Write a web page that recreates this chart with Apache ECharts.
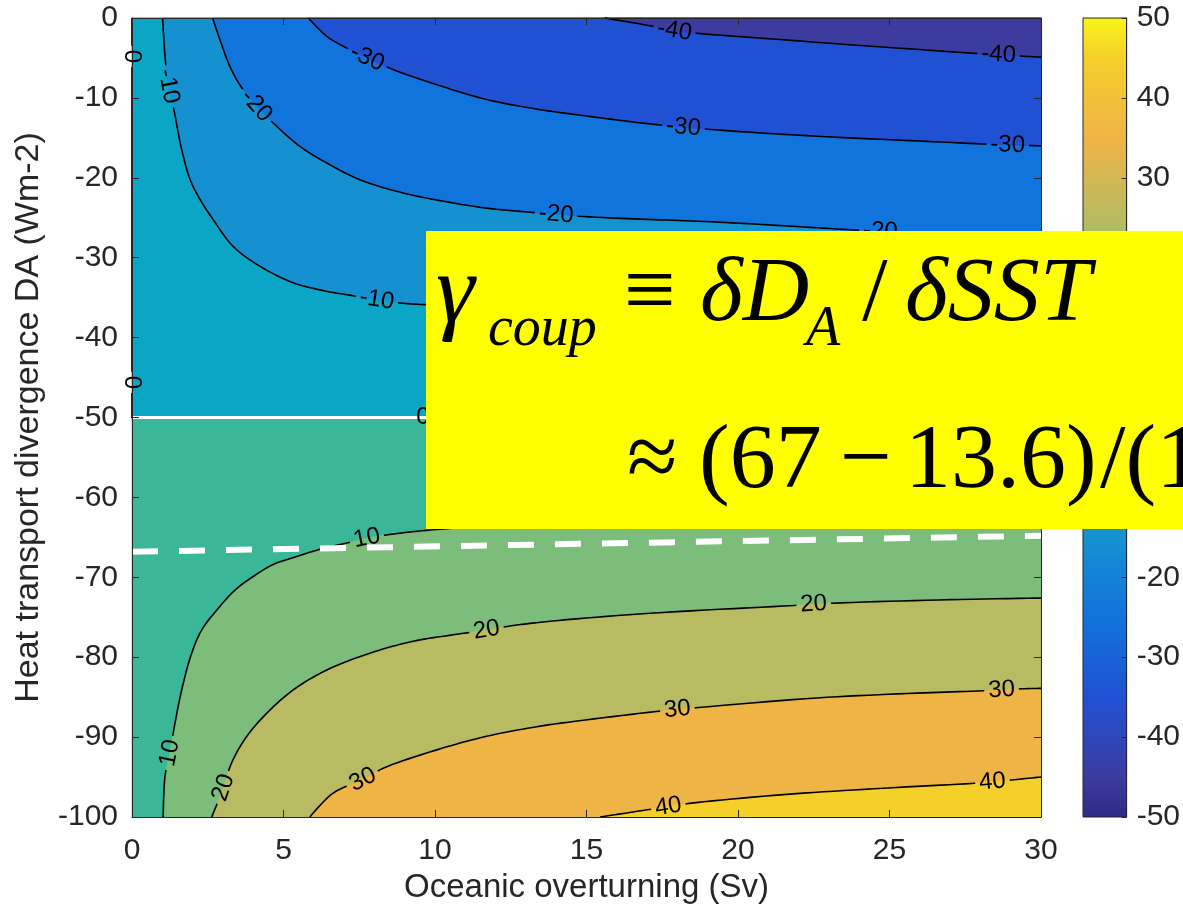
<!DOCTYPE html>
<html>
<head>
<meta charset="utf-8">
<script src="https://cdn.jsdelivr.net/npm/echarts@6/dist/echarts.min.js"></script>
<style>
html, body { margin: 0; padding: 0; background: #ffffff; }
#chart { width: 1183px; height: 912px; }
</style>
</head>
<body>
<div id="chart"></div>
<script>
// ---- axis ranges -------------------------------------------------------
const xRange = [0, 30];        // oceanic overturning (Sv)
const yRange = [-100, 0];      // heat transport divergence DA (Wm-2)
const colorRange = [-50, 50];  // colour scale
const xTickStep = 5;
const yTickStep = 10;
const colorTickStep = 10;

// ---- contour lines, points as [overturning, DA] --------------------------
const contourM40 = [[15.6,0],[17.0,-0.9],[17.9,-1.6],[18.75,-1.95],[21.4,-2.7],[23.7,-3.35],[26.0,-3.95],[27.7,-4.4],[28.6,-4.6],[29.5,-4.8],[30,-4.9]];
const contourM30 = [[5.82,0],[6.43,-2.3],[7.0,-3.6],[7.75,-5.0],[8.63,-6.47],[10.06,-8.35],[11.7,-10.2],[13.36,-11.4],[14.46,-12.0],[17.2,-13.3],[19.1,-13.95],[22.6,-14.8],[26.0,-15.4],[28.0,-15.75],[29.0,-15.9],[30,-16.0]];
const contourM20 = [[2.66,0],[2.9,-2.7],[3.23,-6.06],[3.6,-8.6],[4.12,-11.06],[4.78,-13.57],[5.54,-16.07],[6.43,-18.15],[7.52,-20.24],[8.95,-21.9],[10.6,-23.15],[11.7,-23.8],[13.1,-24.3],[14.9,-24.85],[17.0,-25.2],[19.1,-25.5],[21.5,-26.0],[23.7,-26.5],[26.5,-27.0],[30,-27.5]];
const contourM10 = [[1.01,0],[1.09,-4.84],[1.2,-8.5],[1.36,-11.06],[1.64,-16.48],[1.92,-20.24],[2.25,-22.74],[2.68,-25.24],[3.34,-28.59],[4.23,-31.09],[5.32,-33.13],[6.44,-34.22],[7.09,-34.63],[8.08,-35.26],[8.85,-35.67],[9.74,-35.9],[12.5,-36.5],[15,-36.9],[20,-37.6],[25,-38.2],[30,-38.6]];
const contour0 = [[0,0],[0,-50],[30,-50]];
const contour10 = [[1.03,-100],[1.09,-94.9],[1.25,-92.0],[1.36,-89.5],[1.64,-84.1],[1.97,-79.5],[2.3,-76.6],[2.8,-74.1],[3.4,-71.6],[4.0,-69.9],[4.66,-68.4],[5.44,-67.4],[6.2,-66.5],[7.09,-65.7],[7.75,-65.1],[8.4,-64.7],[9.5,-64.2],[12,-63.5],[15,-63.0],[20,-62.4],[25,-62.0],[30,-61.7]];
const contour20 = [[2.63,-100],[3.01,-96.4],[3.29,-93.2],[3.79,-89.9],[4.45,-87.0],[5.32,-84.1],[6.43,-81.6],[7.85,-79.5],[9.28,-78.0],[10.6,-77.2],[11.7,-76.6],[12.47,-76.1],[13.8,-75.5],[17.1,-74.5],[21.5,-73.6],[23.1,-73.25],[27.0,-72.8],[30,-72.6]];
const contour30 = [[5.87,-100],[6.64,-97.0],[7.63,-95.3],[8.29,-93.9],[10.06,-91.6],[11.7,-89.9],[13.36,-88.7],[14.46,-88.1],[17.3,-86.8],[18.7,-86.3],[22.6,-85.1],[25.9,-84.5],[28.1,-84.2],[29.4,-83.95],[30,-83.9]];
const contour40 = [[15.45,-100],[17.0,-99.1],[17.7,-98.7],[18.4,-98.3],[21.5,-97.2],[24.8,-96.4],[27.7,-95.8],[28.4,-95.6],[29.2,-95.3],[30,-95.0]];

// ---- where each contour carries its inline value label -------------------
const labelsM40 = [[17.9,-1.7],[28.6,-4.6]];
const labelsM30 = [[7.75,-5.1],[18.2,-13.7],[28.9,-15.9]];
const labelsM20 = [[4.1,-11.0],[14.0,-24.6],[24.7,-26.7]];
const labelsM10 = [[1.15,-8.6],[8.08,-35.3]];
const labels0 = [[0,-4.8],[0,-45.6],[9.6,-50]];
const labels10 = [[1.25,-92.0],[7.75,-65.1]];
const labels20 = [[3.0,-96.3],[11.7,-76.6],[22.5,-73.4]];
const labels30 = [[7.6,-95.2],[18.0,-86.5],[28.7,-84.1]];
const labels40 = [[17.7,-98.7],[28.4,-95.6]];

// ---- white reference lines ---------------------------------------------
const refSolid = [[0,-50],[30,-50]];
const refDashed = [[0,-66.8],[30,-64.8]];

// ---- colours -------------------------------------------------------------
const FONT_SANS = "'Liberation Sans', Arial, Helvetica, sans-serif";
const FONT_SERIF = "'Liberation Serif', 'Times New Roman', serif";
const TEXT_COLOR = '#262626';

// fill colour of each 10-unit band, keyed by the band's middle value
const bandColors = {
  '-45': '#3c3ba0', '-35': '#2151d3', '-25': '#1173dc', '-15': '#1591d0', '-5': '#0ba6c6',
  '5': '#3ab798', '15': '#7dbd7c', '25': '#b8bb61', '35': '#efb446', '45': '#f5d02b'
};
// continuous colour bar stops [value, colour]
const colorbarStops = [
  [-50, '#2d2b85'], [-45, '#3c3ba0'], [-35, '#2151d3'], [-25, '#1173dc'], [-15, '#1591d0'],
  [-5, '#0ba6c6'], [5, '#3ab798'], [15, '#7dbd7c'], [25, '#b8bb61'], [35, '#efb446'],
  [45, '#f5d02b'], [50, '#f8f619']
];

// ---- contour table built from the arrays above ---------------------------
const contours = [
  { level: -40, pts: contourM40, labels: labelsM40 },
  { level: -30, pts: contourM30, labels: labelsM30 },
  { level: -20, pts: contourM20, labels: labelsM20 },
  { level: -10, pts: contourM10, labels: labelsM10 },
  { level: 0,   pts: contour0,   labels: labels0, straight: true },
  { level: 10,  pts: contour10,  labels: labels10 },
  { level: 20,  pts: contour20,  labels: labels20 },
  { level: 30,  pts: contour30,  labels: labels30 },
  { level: 40,  pts: contour40,  labels: labels40 }
];

// filled regions, painted in order (each nested inside the previous one);
// a region is a contour path closed through one plot corner
const topRight = [xRange[1], yRange[1]];
const bottomRight = [xRange[1], yRange[0]];
const plotRect = [[xRange[0], yRange[1]], [xRange[1], yRange[1]], [xRange[1], yRange[0]], [xRange[0], yRange[0]]];
const fills = [
  { band: 5,   rect: plotRect },
  { band: -5,  path: contour0,   corner: topRight, straight: true },
  { band: -15, path: contourM10, corner: topRight },
  { band: -25, path: contourM20, corner: topRight },
  { band: -35, path: contourM30, corner: topRight },
  { band: -45, path: contourM40, corner: topRight },
  { band: 15,  path: contour10,  corner: bottomRight },
  { band: 25,  path: contour20,  corner: bottomRight },
  { band: 35,  path: contour30,  corner: bottomRight },
  { band: 45,  path: contour40,  corner: bottomRight }
];

// ---- geometry helpers (pixel space) --------------------------------------
const LABEL_FONT_SIZE = 24;
const measureCtx = document.createElement('canvas').getContext('2d');
function textWidth(text, size) {
  measureCtx.font = size + 'px ' + FONT_SANS;
  return measureCtx.measureText(text).width;
}
// centripetal Catmull-Rom curve through the projected contour points
function smoothCurve(px, steps) {
  if (px.length < 3) return px.slice();
  const out = [px[0]];
  const n = px.length;
  for (let i = 0; i < n - 1; i++) {
    const p0 = px[Math.max(i - 1, 0)], p1 = px[i], p2 = px[i + 1], p3 = px[Math.min(i + 2, n - 1)];
    const d = (a, b) => Math.pow(Math.max(Math.hypot(b[0] - a[0], b[1] - a[1]), 1e-6), 0.5);
    const t0 = 0, t1 = t0 + d(p0, p1), t2 = t1 + d(p1, p2), t3 = t2 + d(p2, p3);
    for (let k = 1; k <= steps; k++) {
      const t = t1 + (t2 - t1) * k / steps;
      const lerp = (a, b, ta, tb) => {
        if (tb - ta < 1e-9) return a;
        return [a[0] * (tb - t) / (tb - ta) + b[0] * (t - ta) / (tb - ta),
                a[1] * (tb - t) / (tb - ta) + b[1] * (t - ta) / (tb - ta)];
      };
      const A1 = lerp(p0, p1, t0, t1), A2 = lerp(p1, p2, t1, t2), A3 = lerp(p2, p3, t2, t3);
      const B1 = lerp(A1, A2, t0, t2), B2 = lerp(A2, A3, t1, t3);
      out.push(lerp(B1, B2, t1, t2));
    }
  }
  return out;
}
function contourPixels(pts, straight, api) {
  const px = pts.map(p => api.coord(p));
  return straight ? px : smoothCurve(px, 10);
}
function cumulative(px) {
  const cum = [0];
  for (let i = 1; i < px.length; i++) {
    cum.push(cum[i - 1] + Math.hypot(px[i][0] - px[i - 1][0], px[i][1] - px[i - 1][1]));
  }
  return cum;
}
function pointAt(px, cum, s) {
  for (let i = 0; i < px.length - 1; i++) {
    if (s <= cum[i + 1] || i === px.length - 2) {
      const seg = cum[i + 1] - cum[i];
      const t = seg > 0 ? Math.max(0, Math.min(1, (s - cum[i]) / seg)) : 0;
      return [px[i][0] + t * (px[i + 1][0] - px[i][0]), px[i][1] + t * (px[i + 1][1] - px[i][1])];
    }
  }
  return px[px.length - 1];
}
function subPath(px, cum, s0, s1) {
  const out = [pointAt(px, cum, s0)];
  for (let i = 0; i < px.length; i++) {
    if (cum[i] > s0 && cum[i] < s1) out.push(px[i]);
  }
  out.push(pointAt(px, cum, s1));
  return out;
}
// label placement: projected point, arc position, rotation and gap extent
function labelLayout(c, api) {
  const px = contourPixels(c.pts, c.straight, api);
  const cum = cumulative(px);
  const text = String(c.level);
  const w = textWidth(text, LABEL_FONT_SIZE);
  const placed = c.labels.map(a => {
    const q = api.coord(a);
    let best = null;
    for (let i = 0; i < px.length - 1; i++) {
      const ax = px[i][0], ay = px[i][1];
      const dx = px[i + 1][0] - ax, dy = px[i + 1][1] - ay;
      const L2 = dx * dx + dy * dy;
      let t = L2 > 0 ? ((q[0] - ax) * dx + (q[1] - ay) * dy) / L2 : 0;
      t = Math.max(0, Math.min(1, t));
      const cx = ax + t * dx, cy = ay + t * dy;
      const dd = Math.hypot(q[0] - cx, q[1] - cy);
      if (!best || dd < best.d) best = { d: dd, x: cx, y: cy, s: cum[i] + t * Math.sqrt(L2) };
    }
    // direction of the curve across the label's width
    const a0 = pointAt(px, cum, Math.max(0, best.s - w / 2));
    const a1 = pointAt(px, cum, Math.min(cum[cum.length - 1], best.s + w / 2));
    let dx = a1[0] - a0[0], dy = a1[1] - a0[1];
    if (dx < 0 || (Math.abs(dx) < 1e-6 && dy < 0)) { dx = -dx; dy = -dy; }
    return { x: best.x, y: best.y, s: best.s, rotation: -Math.atan2(dy, dx), text, w };
  });
  return { px, cum, placed };
}

// ---- chart -------------------------------------------------------------
const chart = echarts.init(document.getElementById('chart'), null, { renderer: 'canvas' });

const axisLineStyle = { color: TEXT_COLOR, width: 1 };

// text piece of the equation box
function eqText(x, y, text, font) {
  return {
    type: 'text', x: x, y: y, z: 101,
    style: { text: text, font: font, fill: '#000000', align: 'left', verticalAlign: 'middle' }
  };
}
const MAIN = '92px ' + FONT_SERIF;
const MAIN_IT = 'italic 92px ' + FONT_SERIF;
const SUB_IT = 'italic 56px ' + FONT_SERIF;

const option = {
  animation: false,
  backgroundColor: '#ffffff',
  grid: [
    { left: 132, top: 18, width: 909, height: 799 },
    { left: 1083, top: 18, width: 46, height: 799 }
  ],
  xAxis: [
    {
      gridIndex: 0, type: 'value', min: xRange[0], max: xRange[1], interval: xTickStep,
      position: 'bottom', z: 10,
      name: 'Oceanic overturning (Sv)', nameLocation: 'middle', nameGap: 54,
      nameTextStyle: { fontSize: 33, color: TEXT_COLOR, fontFamily: FONT_SANS },
      axisLine: { show: true, onZero: false, lineStyle: axisLineStyle },
      axisTick: { show: true, inside: true, length: 7, lineStyle: axisLineStyle },
      axisLabel: { fontSize: 30, color: TEXT_COLOR, fontFamily: FONT_SANS, margin: 19, showMinLabel: true, showMaxLabel: true },
      splitLine: { show: false }
    },
    {
      gridIndex: 0, type: 'value', min: xRange[0], max: xRange[1], interval: xTickStep,
      position: 'top', z: 10,
      axisLine: { show: true, onZero: false, lineStyle: axisLineStyle },
      axisTick: { show: true, inside: true, length: 7, lineStyle: axisLineStyle },
      axisLabel: { show: false }, splitLine: { show: false }
    },
    { gridIndex: 1, type: 'value', min: 0, max: 1, show: false }
  ],
  yAxis: [
    {
      gridIndex: 0, type: 'value', min: yRange[0], max: yRange[1], interval: yTickStep,
      position: 'left', z: 10,
      name: 'Heat transport divergence DA (Wm-2)', nameLocation: 'middle', nameGap: 86, nameRotate: 90,
      nameTextStyle: { fontSize: 34, color: TEXT_COLOR, fontFamily: FONT_SANS },
      axisLine: { show: true, onZero: false, lineStyle: axisLineStyle },
      axisTick: { show: true, inside: true, length: 7, lineStyle: axisLineStyle },
      axisLabel: { fontSize: 30, color: TEXT_COLOR, fontFamily: FONT_SANS, margin: 14, showMinLabel: true, showMaxLabel: true },
      splitLine: { show: false }
    },
    {
      gridIndex: 0, type: 'value', min: yRange[0], max: yRange[1], interval: yTickStep,
      position: 'right', z: 10,
      axisLine: { show: true, onZero: false, lineStyle: axisLineStyle },
      axisTick: { show: true, inside: true, length: 7, lineStyle: axisLineStyle },
      axisLabel: { show: false }, splitLine: { show: false }
    },
    {
      gridIndex: 1, type: 'value', min: colorRange[0], max: colorRange[1], interval: colorTickStep,
      position: 'right', z: 10,
      axisLine: { show: true, onZero: false, lineStyle: axisLineStyle },
      axisTick: { show: true, inside: true, length: 5, lineStyle: axisLineStyle },
      axisLabel: { fontSize: 30, color: TEXT_COLOR, fontFamily: FONT_SANS, margin: 10, showMinLabel: true, showMaxLabel: true },
      splitLine: { show: false }
    }
  ],
  series: [
    // filled contour bands
    {
      type: 'custom', name: 'bands', xAxisIndex: 0, yAxisIndex: 0, z: 1, silent: true,
      data: fills.map(f => (f.rect || f.path)[0]),
      renderItem: function (params, api) {
        const f = fills[params.dataIndex];
        const col = bandColors[String(f.band)];
        const points = f.rect
          ? f.rect.map(p => api.coord(p))
          : contourPixels(f.path, f.straight, api).concat([api.coord(f.corner)]);
        return {
          type: 'polygon',
          shape: { points: points },
          style: { fill: col, stroke: col, lineWidth: 0.6 }
        };
      }
    },
    // contour lines, broken where their labels sit
    {
      type: 'custom', name: 'contours', xAxisIndex: 0, yAxisIndex: 0, z: 2, silent: true,
      data: contours.map(c => c.pts[0]),
      renderItem: function (params, api) {
        const c = contours[params.dataIndex];
        const lay = labelLayout(c, api);
        const total = lay.cum[lay.cum.length - 1];
        const gaps = lay.placed.map(p => [p.s - p.w / 2 - 4, p.s + p.w / 2 + 4]).sort((a, b) => a[0] - b[0]);
        const keep = [];
        let start = 0;
        gaps.forEach(g => {
          if (g[0] > start) keep.push([start, Math.min(g[0], total)]);
          start = Math.max(start, g[1]);
        });
        if (start < total) keep.push([start, total]);
        return {
          type: 'group',
          children: keep.filter(k => k[1] > k[0]).map(k => ({
            type: 'polyline',
            shape: { points: subPath(lay.px, lay.cum, k[0], k[1]) },
            style: { stroke: '#000000', lineWidth: 1.6, fill: null }
          }))
        };
      }
    },
    // white reference lines
    {
      type: 'line', name: 'solid', xAxisIndex: 0, yAxisIndex: 0, z: 3, silent: true,
      data: refSolid, symbol: 'none',
      lineStyle: { color: '#ffffff', width: 3 }
    },
    {
      type: 'line', name: 'dashed', xAxisIndex: 0, yAxisIndex: 0, z: 3, silent: true,
      data: refDashed, symbol: 'none',
      lineStyle: { color: '#ffffff', width: 6, type: [26, 21] }
    },
    // inline contour labels
    {
      type: 'custom', name: 'contourLabels', xAxisIndex: 0, yAxisIndex: 0, z: 4, silent: true,
      data: contours.map(c => c.pts[0]),
      renderItem: function (params, api) {
        const c = contours[params.dataIndex];
        const lay = labelLayout(c, api);
        return {
          type: 'group',
          children: lay.placed.map(p => ({
            type: 'text',
            x: p.x, y: p.y, rotation: p.rotation,
            style: {
              text: p.text, fill: '#000000', fontSize: LABEL_FONT_SIZE, fontFamily: FONT_SANS,
              align: 'center', verticalAlign: 'middle'
            }
          }))
        };
      }
    },
    // colour bar
    {
      type: 'custom', name: 'colorbar', xAxisIndex: 2, yAxisIndex: 2, z: 1, silent: true,
      data: [[0, colorRange[1]]],
      renderItem: function (params, api) {
        const p0 = api.coord([0, colorRange[1]]);
        const p1 = api.coord([1, colorRange[0]]);
        const span = colorRange[1] - colorRange[0];
        const grad = new echarts.graphic.LinearGradient(0, 1, 0, 0,
          colorbarStops.map(s => ({ offset: (s[0] - colorRange[0]) / span, color: s[1] })));
        return {
          type: 'rect',
          shape: { x: p0[0], y: p0[1], width: p1[0] - p0[0], height: p1[1] - p0[1] },
          style: { fill: grad, stroke: TEXT_COLOR, lineWidth: 1 }
        };
      }
    }
  ],
  // highlighted equation box
  graphic: [
    {
      type: 'rect', z: 100, shape: { x: 426, y: 231, width: 780, height: 298 },
      style: { fill: '#ffff00' }
    },
    eqText(436, 295, 'γ', 'italic 98px ' + FONT_SERIF),
    eqText(488, 330, 'coup', SUB_IT),
    eqText(624, 296, '≡', MAIN),
    eqText(700, 296, 'δD', MAIN_IT),
    eqText(806, 330, 'A', SUB_IT),
    eqText(862, 296, '/', MAIN),
    eqText(905, 296, 'δSST', MAIN_IT),
    eqText(627, 463, '≈', MAIN),
    eqText(699, 463, '(67', MAIN),
    eqText(840, 463, '−', MAIN),
    eqText(905, 463, '13.6)', MAIN),
    eqText(1100, 463, '/(1', MAIN)
  ]
};

chart.setOption(option);
</script>
</body>
</html>
